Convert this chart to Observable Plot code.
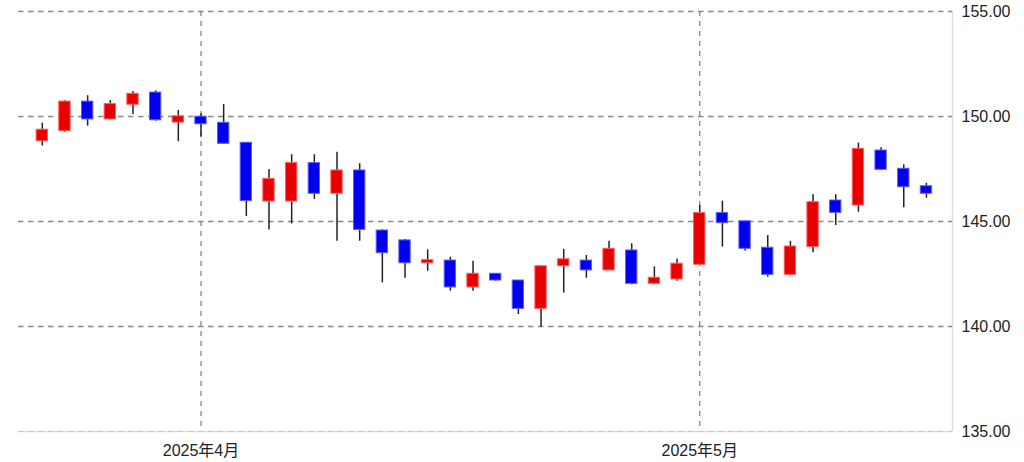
<!DOCTYPE html>
<html>
<head>
<meta charset="utf-8">
<script src="https://cdn.jsdelivr.net/npm/d3@7"></script>
<script src="https://cdn.jsdelivr.net/npm/@observablehq/plot@0.6"></script>
<style>
  html, body { margin: 0; padding: 0; background: #fff; }
  #chart { width: 1024px; height: 462px; }
</style>
</head>
<body>
<div id="chart"></div>
<script>
const dates = ["2025-03-21","2025-03-24","2025-03-25","2025-03-26","2025-03-27","2025-03-28","2025-03-31",
  "2025-04-01","2025-04-02","2025-04-03","2025-04-04","2025-04-07","2025-04-08","2025-04-09","2025-04-10","2025-04-11",
  "2025-04-14","2025-04-15","2025-04-16","2025-04-17","2025-04-18","2025-04-21","2025-04-22","2025-04-23","2025-04-24","2025-04-25",
  "2025-04-28","2025-04-29","2025-04-30","2025-05-01","2025-05-02","2025-05-05","2025-05-06","2025-05-07","2025-05-08","2025-05-09",
  "2025-05-12","2025-05-13","2025-05-14","2025-05-15"];
const open  = [148.82,149.30,150.71,149.86,150.56,151.14,149.71,149.99,149.70,148.75,145.95,145.95,147.78,146.32,147.43,144.57,144.10,143.01,143.14,141.86,142.51,142.19,140.84,142.87,143.14,142.67,143.62,142.03,142.24,142.94,145.40,145.01,143.75,142.46,143.78,146.00,145.76,148.38,147.51,146.68];
const high  = [149.68,150.75,150.99,150.76,151.19,151.22,150.29,150.13,150.57,148.75,147.48,148.18,148.18,148.30,147.75,144.60,144.14,143.65,143.30,143.11,142.51,142.19,142.87,143.67,143.38,144.06,143.94,142.84,143.22,145.76,145.97,145.01,144.33,144.06,146.27,146.27,148.73,148.51,147.70,146.82];
const low   = [148.59,149.25,149.54,149.84,150.10,149.78,148.80,149.01,148.70,145.24,144.60,144.89,146.05,144.06,144.06,142.08,142.30,142.63,141.68,141.68,142.16,140.57,139.97,141.59,142.30,142.67,141.99,141.99,142.16,142.94,143.78,143.59,142.35,142.46,143.51,144.81,145.44,147.44,145.65,146.11];
const close = [149.37,150.71,149.86,150.59,151.08,149.82,150.01,149.63,148.70,145.97,147.03,147.78,146.32,147.43,144.60,143.49,143.01,143.16,141.86,142.51,142.19,140.84,142.87,143.20,142.67,143.70,142.03,142.32,142.99,145.40,144.92,143.70,142.46,143.81,145.92,145.41,148.46,147.46,146.63,146.32];

const yTicks = [135, 140, 145, 150, 155];
const xTickDates = ["2025-04-01", "2025-05-01"];
const xTickLabels = ["2025年4月", "2025年5月"];

const upColor = "#e60000", upEdge = "#ff5c5c";
const downColor = "#0000ee", downEdge = "#5c5cff";

const data = dates.map((d, i) => ({i, date: d, open: open[i], high: high[i], low: low[i], close: close[i], up: close[i] >= open[i]}));
const xTicks = xTickDates.map(d => dates.indexOf(d));
const half = 0.25;

const chart = Plot.plot({
  width: 1024,
  height: 462,
  marginLeft: 18,
  marginRight: 72,
  marginTop: 11,
  marginBottom: 31,
  style: {fontFamily: "'Liberation Sans', Arial, 'Noto Sans CJK JP', sans-serif", fontSize: "16px", color: "#222", background: "#fff"},
  x: {type: "linear", domain: [-1.05, 40.15]},
  y: {domain: [135, 155]},
  marks: [
    Plot.ruleY([135], {stroke: "#ddd", strokeWidth: 1.5}),
    Plot.ruleX([40.15], {stroke: "#ddd", strokeWidth: 1.5}),
    Plot.ruleY(yTicks.filter(t => t > 135), {stroke: "#888", strokeWidth: 1.3, strokeDasharray: "5.5,4.5"}),
    Plot.ruleY([135], {stroke: "#c8c8c8", strokeWidth: 1.2, strokeDasharray: "5.5,4.5"}),
    Plot.ruleX(xTicks, {stroke: "#888", strokeWidth: 1.3, strokeDasharray: "5,5"}),
    Plot.ruleX(data, {x: "i", y1: "low", y2: "high", stroke: "#222", strokeWidth: 1.5}),
    Plot.rect(data, {
      x1: d => d.i - half, x2: d => d.i + half,
      y1: "open", y2: "close",
      fill: d => d.up ? upColor : downColor,
      stroke: d => d.up ? upEdge : downEdge,
      strokeWidth: 1
    }),
    Plot.axisY({anchor: "right", ticks: yTicks, tickFormat: d => d.toFixed(2), tickSize: 0, tickPadding: 9, fontSize: 16, label: null}),
    Plot.axisX({ticks: xTicks, tickFormat: i => xTickLabels[xTicks.indexOf(i)], tickSize: 0, tickPadding: 13, fontSize: 16, label: null})
  ]
});
document.getElementById("chart").appendChild(chart);
</script>
</body>
</html>
